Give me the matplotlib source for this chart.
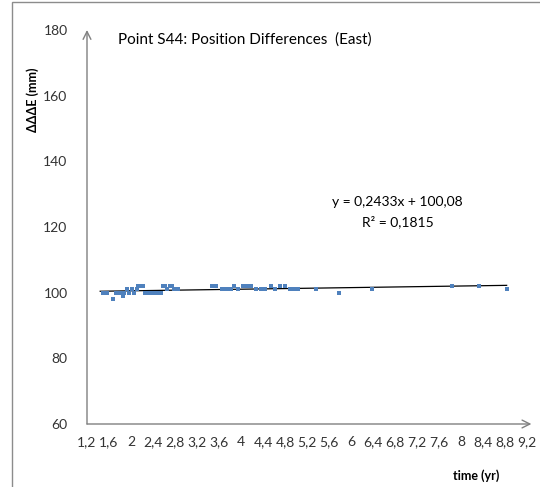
import matplotlib
matplotlib.use("Agg")
from matplotlib import pyplot as plt
from matplotlib.patches import Rectangle
from matplotlib.ticker import FuncFormatter, MultipleLocator

plt.rcParams['font.family'] = ['Lato', 'DejaVu Sans']

# time (yr) and position difference (mm)
time_yr = [1.49, 1.57, 1.67, 1.73, 1.77, 1.81, 1.85, 1.88, 1.93, 1.97, 2.01, 2.05,
           2.10, 2.13, 2.17, 2.21, 2.26, 2.30, 2.34, 2.38, 2.42, 2.46, 2.50, 2.54,
           2.58, 2.62, 2.66, 2.70, 2.74, 2.78, 2.82, 2.86, 3.47, 3.54, 3.65, 3.70,
           3.74, 3.81, 3.88, 3.95, 4.04, 4.11, 4.19, 4.28, 4.37, 4.44, 4.55, 4.62,
           4.71, 4.80, 4.89, 4.96, 5.03, 5.37, 5.79, 6.38, 7.84, 8.32, 8.83]
dE_mm = [100, 100, 98, 100, 100, 100, 99, 100, 101, 100, 101, 100,
         101, 102, 102, 102, 100, 100, 100, 100, 100, 100, 100, 100,
         102, 102, 101, 102, 102, 101, 101, 101, 102, 102, 101, 101,
         101, 101, 102, 101, 102, 102, 102, 101, 101, 101, 102, 101,
         102, 102, 101, 101, 101, 101, 100, 101, 102, 102, 101]

trend_slope = 0.2433
trend_intercept = 100.08
r_squared = 0.1815

fig = plt.figure(figsize=(5.4, 4.87), dpi=100)
ax = fig.add_axes([87/540, 1-424/487, 440/540, 394/487])

# outer chart border
fig.patches.append(Rectangle((12/540, -0.1), 1.2, 1.1 - 1.5/487, transform=fig.transFigure,
                             fill=False, edgecolor='#8c8c8c', linewidth=1.0))

ax.scatter(time_yr, dE_mm, marker='s', s=12, color='#4F81BD', zorder=3, linewidths=0)
x0, x1 = min(time_yr) - 0.05, max(time_yr)
ax.plot([x0, x1], [trend_slope*x0 + trend_intercept, trend_slope*x1 + trend_intercept],
        color='black', linewidth=0.9, zorder=2)

ax.set_xlim(1.2, 9.2); ax.set_ylim(60, 180)
ax.xaxis.set_major_locator(MultipleLocator(0.4))
ax.yaxis.set_major_locator(MultipleLocator(20))
fmt = FuncFormatter(lambda v, p: f"{round(v, 1):g}".replace('.', ','))
ax.xaxis.set_major_formatter(fmt); ax.yaxis.set_major_formatter(fmt)
ax.tick_params(length=0, labelsize=10, colors='#333333')
ax.tick_params(axis='x', pad=9); ax.tick_params(axis='y', pad=14)
for s in ax.spines.values(): s.set_visible(False)

# axis arrows
arrow = dict(arrowstyle='->', color='#808080', lw=1.0, mutation_scale=14, shrinkA=0, shrinkB=0)
ax.annotate('', xy=(1.01, 0), xytext=(0, 0), xycoords='axes fraction', arrowprops=arrow)
ax.annotate('', xy=(0, 1), xytext=(0, 0), xycoords='axes fraction', arrowprops=arrow)

fig.text(118/540, 1-40/487, 'Point S44: Position Differences  (East)', fontsize=11, va='center', ha='left')
fig.text(33/540, 1-100/487, 'ΔΔΔE (mm)', fontsize=9, fontweight='bold', rotation=90, va='center', ha='center')
fig.text(476/540, 1-476/487, 'time (yr)', fontsize=9, fontweight='bold', va='center', ha='center')

eq = f"y = {trend_slope:.4f}x + {trend_intercept:.2f}".replace('.', ',')
ax.text(6.85, 127.5, eq, fontsize=10, ha='center', va='center')
ax.text(6.85, 121.5, f"R² = {r_squared:.4f}".replace('.', ','), fontsize=10, ha='center', va='center')

fig.savefig('out.png', dpi=100)
